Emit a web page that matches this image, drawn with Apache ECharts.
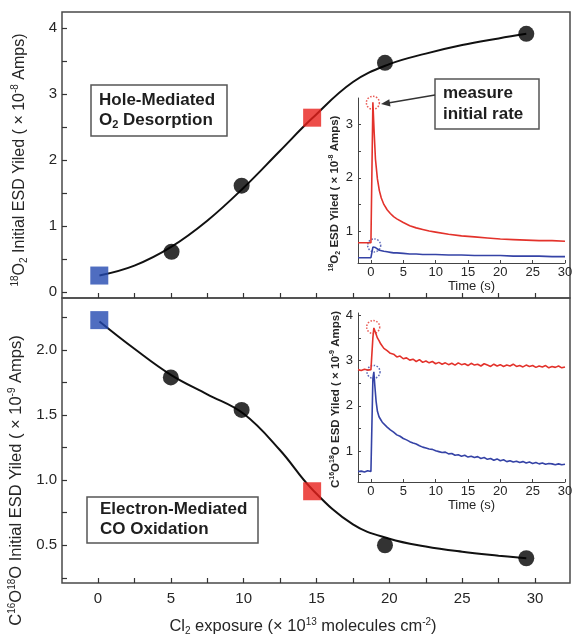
<!DOCTYPE html>
<html><head><meta charset="utf-8">
<script src="https://cdn.jsdelivr.net/npm/echarts@6/dist/echarts.min.js"></script>
<style>html,body{margin:0;padding:0;background:#fff}#c{width:573px;height:635px}</style>
</head><body><div id="c"></div>
<script>
// ---- main panels: marker data ----
const topCircleX = [5.05, 9.86, 19.7, 29.4];
const topCircleY = [0.61, 1.61, 3.47, 3.91];
const topBlueSq = [0.09, 0.25];
const topRedSq = [14.7, 2.64];
const botCircleX = [5.0, 9.86, 19.7, 29.4];
const botCircleY = [1.79, 1.54, 0.50, 0.40];
const botBlueSq = [0.09, 2.23];
const botRedSq = [14.7, 0.915];
// ---- fitted curves ----
const curveX = [0.1, 2.5, 5, 7.5, 10, 12.5, 14.7, 17.5, 20, 22.5, 25, 27.5, 29.4];
const curveTopY = [0.25, 0.40, 0.68, 1.08, 1.58, 2.14, 2.63, 3.18, 3.45, 3.61, 3.74, 3.84, 3.91];
const curveBotY = [2.22, 2.01, 1.81, 1.66, 1.51, 1.23, 0.93, 0.66, 0.55, 0.49, 0.45, 0.42, 0.40];
// ---- inset 1 traces ----
const t1 = [-2,-1,0,0.2,0.3,0.5,0.7,1,1.3,1.6,2,2.5,3,3.5,4,5,6,7,8,9,10,12,14,16,18,20,22,24,26,28,30];
const red1 = [0.78,0.78,0.78,0.78,3.42,2.85,2.35,1.98,1.76,1.62,1.50,1.40,1.33,1.27,1.23,1.16,1.10,1.06,1.03,1.00,0.98,0.94,0.91,0.89,0.87,0.85,0.84,0.83,0.82,0.82,0.81];
const blue1 = [0.50,0.50,0.50,0.50,0.70,0.72,0.69,0.66,0.64,0.63,0.62,0.61,0.60,0.59,0.59,0.58,0.57,0.57,0.56,0.56,0.56,0.55,0.55,0.54,0.54,0.54,0.53,0.53,0.53,0.52,0.52];
// ---- inset 2 traces ----
const t2 = [-2,-1.5,-1,-0.5,0,0.2,0.3,0.45,0.6,0.8,1,1.25,1.5,1.75,2,2.5,3,3.5,4,4.5,5,5.5,6,6.5,7,7.5,8,8.5,9,9.5,10,10.5,11,11.5,12,12.5,13,13.5,14,14.5,15,15.5,16,16.5,17,17.5,18,18.5,19,19.5,20,20.5,21,21.5,22,22.5,23,23.5,24,24.5,25,25.5,26,26.5,27,27.5,28,28.5,29,29.5,30];
const red2 = [2.80,2.78,2.81,2.79,2.80,2.81,3.50,3.72,3.66,3.58,3.50,3.44,3.37,3.33,3.27,
 3.22,3.16,3.14,3.08,3.10,3.04,3.06,3.01,3.03,2.98,3.02,2.96,2.99,2.95,2.98,
 2.93,2.96,2.92,2.95,2.91,2.94,2.90,2.95,2.91,2.93,
 2.89,2.94,2.90,2.92,2.88,2.93,2.90,2.87,2.92,2.88,
 2.91,2.87,2.90,2.88,2.92,2.87,2.89,2.86,2.90,2.87,
 2.89,2.85,2.88,2.86,2.89,2.84,2.87,2.85,2.88,2.84,2.86];
const blue2 = [0.55,0.56,0.54,0.57,0.55,0.56,2.60,2.75,2.45,2.10,1.88,1.76,1.70,1.64,1.60,
 1.53,1.47,1.42,1.36,1.33,1.28,1.25,1.21,1.18,1.16,1.12,1.09,1.07,1.05,1.04,
 1.01,0.99,0.97,0.98,0.94,0.95,0.91,0.92,0.89,0.91,
 0.87,0.89,0.86,0.88,0.84,0.86,0.82,0.84,0.80,0.83,
 0.79,0.81,0.77,0.79,0.76,0.78,0.75,0.77,0.74,0.76,
 0.73,0.75,0.72,0.74,0.71,0.73,0.72,0.70,0.72,0.70,0.71];
// dotted "initial rate" circles [t, y, colour tag]
const peakMarks1 = [[0.3, 3.41, 'r'], [0.5, 0.73, 'b']];
const peakMarks2 = [[0.35, 3.74, 'r'], [0.4, 2.75, 'b']];
// ---- tick values ----
const xTicks = [0,2.5,5,7.5,10,12.5,15,17.5,20,22.5,25,27.5,30];
const xLabels = [0,5,10,15,20,25,30];
const topYTicks = [0,0.5,1,1.5,2,2.5,3,3.5,4];
const topYLabels = [0,1,2,3,4];
const botYTicks = [0.25,0.5,0.75,1,1.25,1.5,1.75,2,2.25];
const botYLabels = [0.5,1.0,1.5,2.0];
const insetXLabels = [0,5,10,15,20,25,30];
const inset1YTicks = [0.5,1,1.5,2,2.5,3];
const inset1YLabels = [1,2,3];
const inset2YTicks = [0.5,1,1.5,2,2.5,3,3.5,4];
const inset2YLabels = [1,2,3,4];

const zip = (xs, ys) => xs.map((x, i) => [x, ys[i]]);
const FONT = 'Liberation Sans, Arial, sans-serif';
const TXT = '#262626';
const RED = '#e3322b', BLUE = '#3543a6', SQRED = '#e8201c', SQBLUE = '#2349b0';
const richSS = (fs, w) => ({
  sup: {fontSize: Math.round(fs*0.62), verticalAlign: 'top', fontFamily: FONT, color: TXT, lineHeight: fs+3, fontWeight: w || 'normal'},
  sub: {fontSize: Math.round(fs*0.62), verticalAlign: 'bottom', fontFamily: FONT, color: TXT, lineHeight: fs+3, fontWeight: w || 'normal'},
  n: {fontSize: fs, fontFamily: FONT, color: TXT, lineHeight: fs+3, fontWeight: w || 'normal'}
});

function mainX(idx, labels) {
  return {
    gridIndex: idx, type: 'value', min: -2.47, max: 32.4,
    axisLine: {show: false, onZero: false},
    axisTick: {show: true, inside: true, length: 5, customValues: xTicks, lineStyle: {color: '#333', width: 1.2}},
    axisLabel: labels ? {show: true, customValues: xLabels, fontSize: 15, color: TXT, fontFamily: FONT, margin: 8} : {show: false},
    splitLine: {show: false}
  };
}
function insetX(idx, gap, pad) {
  return {
    gridIndex: idx, type: 'value', min: -2, max: 30,
    axisLine: {show: true, onZero: false, lineStyle: {color: '#444', width: 1}},
    axisTick: {show: true, inside: true, length: 3, customValues: insetXLabels, lineStyle: {color: '#444'}},
    axisLabel: {show: true, customValues: insetXLabels, fontSize: 13, color: TXT, fontFamily: FONT, margin: 3},
    splitLine: {show: false},
    name: 'Time (s)', nameLocation: 'middle', nameGap: gap,
    nameTextStyle: {fontSize: 13, color: TXT, fontFamily: FONT, padding: pad}
  };
}
const G = {outerBoundsMode: 'none', containLabel: false};

const option = {
  animation: false,
  backgroundColor: '#fff',
  grid: [
    Object.assign({left: 62, top: 12, width: 508, height: 286, show: true, borderColor: '#4a4a4a', borderWidth: 1.5, backgroundColor: 'transparent'}, G),
    Object.assign({left: 62, top: 298, width: 508, height: 285, show: true, borderColor: '#4a4a4a', borderWidth: 1.5, backgroundColor: 'transparent'}, G),
    Object.assign({left: 358, top: 98, width: 207, height: 165}, G),
    Object.assign({left: 358, top: 313, width: 207, height: 169}, G)
  ],
  xAxis: [
    mainX(0, false),
    Object.assign(mainX(1, true), {
      name: '{n|Cl}{sub|2}{n| exposure (× 10}{sup|13}{n| molecules cm}{sup|-2}{n|)}',
      nameLocation: 'middle', nameGap: 34,
      nameTextStyle: {fontSize: 16.5, color: TXT, fontFamily: FONT, padding: [0, 26, 0, 0], rich: richSS(16.5)}
    }),
    insetX(2, 16, [0, 0, 0, 20]),
    insetX(3, 12, [0, 0, 0, 20])
  ],
  yAxis: [
    {
      gridIndex: 0, type: 'value', min: -0.09, max: 4.24,
      axisLine: {show: false, onZero: false},
      axisTick: {show: true, inside: true, length: 5, customValues: topYTicks, lineStyle: {color: '#333', width: 1.2}},
      axisLabel: {customValues: topYLabels, fontSize: 15, color: TXT, fontFamily: FONT, margin: 5},
      splitLine: {show: false},
      name: '{sup|18}{n|O}{sub|2}{n| Initial ESD Yiled ( × 10}{sup|-8}{n| Amps)}',
      nameLocation: 'middle', nameGap: 33,
      nameTextStyle: {fontSize: 16, color: TXT, fontFamily: FONT, padding: [0, 10, 0, 0], rich: richSS(16)}
    },
    {
      gridIndex: 1, type: 'value', min: 0.21, max: 2.40,
      axisLine: {show: false, onZero: false},
      axisTick: {show: true, inside: true, length: 5, customValues: botYTicks, lineStyle: {color: '#333', width: 1.2}},
      axisLabel: {customValues: botYLabels, fontSize: 15, color: TXT, fontFamily: FONT, margin: 5, formatter: v => v.toFixed(1)},
      splitLine: {show: false},
      name: '{n|C}{sup|16}{n|O}{sup|18}{n|O Initial ESD Yiled ( × 10}{sup|-9}{n| Amps)}',
      nameLocation: 'middle', nameGap: 33,
      nameTextStyle: {fontSize: 16.5, color: TXT, fontFamily: FONT, padding: [0, 80, 0, 0], rich: richSS(16.5)}
    },
    {
      gridIndex: 2, type: 'value', min: 0.4, max: 3.5,
      axisLine: {show: true, onZero: false, lineStyle: {color: '#444', width: 1}},
      axisTick: {show: true, inside: true, length: 3, customValues: inset1YTicks, lineStyle: {color: '#444'}},
      axisLabel: {customValues: inset1YLabels, fontSize: 13, color: TXT, fontFamily: FONT, margin: 5},
      splitLine: {show: false},
      name: '{sup|18}{n|O}{sub|2}{n| ESD Yiled ( × 10}{sup|-8}{n| Amps)}',
      nameLocation: 'middle', nameGap: 13,
      nameTextStyle: {fontSize: 11.5, color: TXT, fontFamily: FONT, padding: [0, 26, 0, 0], rich: richSS(11.5, 'bold')}
    },
    {
      gridIndex: 3, type: 'value', min: 0.32, max: 4.05,
      axisLine: {show: true, onZero: false, lineStyle: {color: '#444', width: 1}},
      axisTick: {show: true, inside: true, length: 3, customValues: inset2YTicks, lineStyle: {color: '#444'}},
      axisLabel: {customValues: inset2YLabels, fontSize: 13, color: TXT, fontFamily: FONT, margin: 5},
      splitLine: {show: false},
      name: '{n|C}{sup|16}{n|O}{sup|18}{n|O ESD Yiled ( × 10}{sup|-9}{n| Amps)}',
      nameLocation: 'middle', nameGap: 13,
      nameTextStyle: {fontSize: 11.5, color: TXT, fontFamily: FONT, padding: [0, 4, 0, 0], rich: richSS(11.5, 'bold')}
    }
  ],
  series: [
    {type: 'line', xAxisIndex: 0, yAxisIndex: 0, data: zip(curveX, curveTopY), smooth: 0.4, symbol: 'none', lineStyle: {color: '#111', width: 2}, z: 2},
    {type: 'scatter', xAxisIndex: 0, yAxisIndex: 0, data: zip(topCircleX, topCircleY), symbol: 'circle', symbolSize: 16, itemStyle: {color: '#000'}, z: 3},
    {type: 'scatter', xAxisIndex: 0, yAxisIndex: 0, data: [topBlueSq], symbol: 'rect', symbolSize: 18, itemStyle: {color: SQBLUE}, z: 3},
    {type: 'scatter', xAxisIndex: 0, yAxisIndex: 0, data: [topRedSq], symbol: 'rect', symbolSize: 18, itemStyle: {color: SQRED}, z: 3},
    {type: 'line', xAxisIndex: 1, yAxisIndex: 1, data: zip(curveX, curveBotY), smooth: 0.4, symbol: 'none', lineStyle: {color: '#111', width: 2}, z: 2},
    {type: 'scatter', xAxisIndex: 1, yAxisIndex: 1, data: zip(botCircleX, botCircleY), symbol: 'circle', symbolSize: 16, itemStyle: {color: '#000'}, z: 3},
    {type: 'scatter', xAxisIndex: 1, yAxisIndex: 1, data: [botBlueSq], symbol: 'rect', symbolSize: 18, itemStyle: {color: SQBLUE}, z: 3},
    {type: 'scatter', xAxisIndex: 1, yAxisIndex: 1, data: [botRedSq], symbol: 'rect', symbolSize: 18, itemStyle: {color: SQRED}, z: 3},
    {type: 'line', xAxisIndex: 2, yAxisIndex: 2, data: zip(t1, red1), symbol: 'none', lineStyle: {color: RED, width: 1.6}},
    {type: 'line', xAxisIndex: 2, yAxisIndex: 2, data: zip(t1, blue1), symbol: 'none', lineStyle: {color: BLUE, width: 1.6}},
    {type: 'line', xAxisIndex: 3, yAxisIndex: 3, data: zip(t2, red2), symbol: 'none', lineStyle: {color: RED, width: 1.6}},
    {type: 'line', xAxisIndex: 3, yAxisIndex: 3, data: zip(t2, blue2), symbol: 'none', lineStyle: {color: BLUE, width: 1.6}},
    {type: 'scatter', xAxisIndex: 2, yAxisIndex: 2, symbol: 'circle', symbolSize: 13,
      data: peakMarks1.map(p => ({value: [p[0], p[1]], itemStyle: {borderColor: p[2] === 'r' ? RED : BLUE}})),
      itemStyle: {color: 'rgba(0,0,0,0)', borderWidth: 1.5, borderType: 'dotted'}},
    {type: 'scatter', xAxisIndex: 3, yAxisIndex: 3, symbol: 'circle', symbolSize: 13,
      data: peakMarks2.map(p => ({value: [p[0], p[1]], itemStyle: {borderColor: p[2] === 'r' ? RED : BLUE}})),
      itemStyle: {color: 'rgba(0,0,0,0)', borderWidth: 1.5, borderType: 'dotted'}}
  ],
  graphic: [
    {type: 'rect', shape: {x: 91, y: 85, width: 136, height: 51}, style: {fill: '#fff', stroke: '#555', lineWidth: 1.5}, z: 10},
    {type: 'text', x: 99, y: 90, z: 11, style: {text: '{b|Hole-Mediated}\n{b|O}{s|2}{b| Desorption}',
      rich: {b: {fontSize: 17, fontWeight: 'bold', fontFamily: FONT, fill: '#1e1e1e', lineHeight: 20},
             s: {fontSize: 11, fontWeight: 'bold', fontFamily: FONT, fill: '#1e1e1e', lineHeight: 20, verticalAlign: 'bottom'}}}},
    {type: 'rect', shape: {x: 435, y: 79, width: 104, height: 50}, style: {fill: '#fff', stroke: '#555', lineWidth: 1.5}, z: 10},
    {type: 'text', x: 443, y: 83, z: 11, style: {text: 'measure\ninitial rate', fontSize: 17, fontWeight: 'bold', fontFamily: FONT, fill: '#1e1e1e', lineHeight: 21}},
    {type: 'rect', shape: {x: 87, y: 497, width: 171, height: 46}, style: {fill: '#fff', stroke: '#555', lineWidth: 1.5}, z: 10},
    {type: 'text', x: 100, y: 499, z: 11, style: {text: 'Electron-Mediated\nCO Oxidation', fontSize: 17, fontWeight: 'bold', fontFamily: FONT, fill: '#1e1e1e', lineHeight: 20}},
    {type: 'line', shape: {x1: 435, y1: 95, x2: 388, y2: 103}, style: {stroke: '#333', lineWidth: 1.4}, z: 10},
    {type: 'polygon', shape: {points: [[381, 104], [389.3, 99.2], [390.5, 106.6]]}, style: {fill: '#333'}, z: 10}
  ]
};

const chart = echarts.init(document.getElementById('c'), null, {renderer: 'canvas'});
chart.setOption(option);
</script></body></html>
